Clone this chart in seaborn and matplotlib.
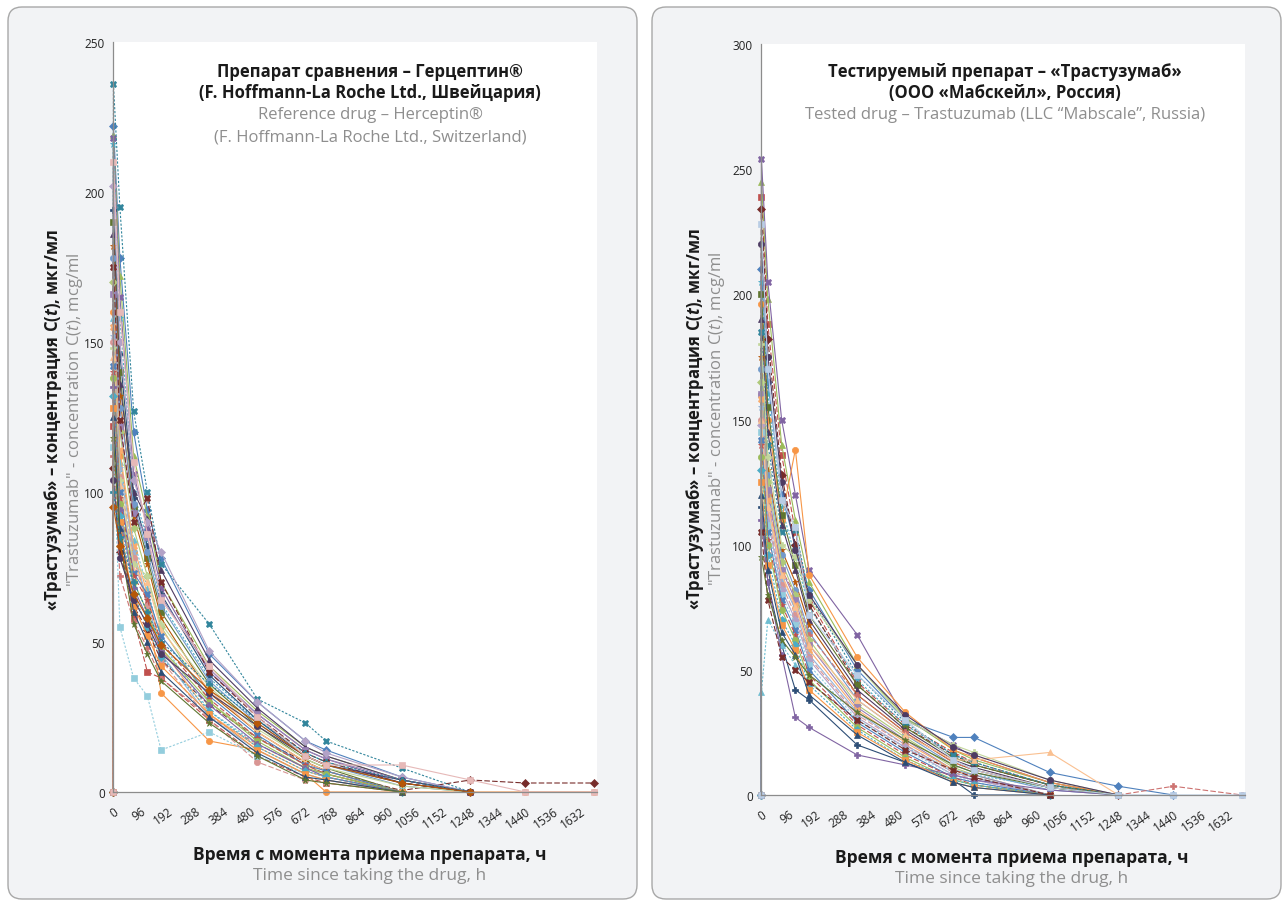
import matplotlib
matplotlib.use('Agg')
import numpy as np
import pandas as pd
import matplotlib.pyplot as plt
import seaborn as sns
from matplotlib.patches import FancyBboxPatch
from matplotlib.transforms import IdentityTransform

# sampling times, h
times = [0, 1.5, 24, 72, 120, 168, 336, 504, 672, 744, 1008, 1248, 1440, 1680]

# Reference drug (Herceptin), one row per subject, mcg/ml
ref_conc = [
    [0, 222, 178, 120, 94, 78, 46, 30, 17, 14, 5, 0],
    [0, 122, 86, 58, 40, 38, 24, 12, 5, 3, 0],
    [0, 219, 172, 112, 92, 70, 42, 27, 15, 12, 4, 0],
    [0, 218, 165, 106, 88, 68, 40, 26, 14, 11, 3, 0],
    [0, 216, 158, 100, 84, 63, 38, 24, 13, 10, 3, 0],
    [0, 160, 112, 80, 62, 33, 17, 14, 6, 0, 0, 0, 0, 0],
    [0, 194, 146, 98, 82, 66, 39, 24, 12, 9, 3, 0],
    [0, 108, 80, 62, 54, 44, 29, 18, 10, 7, 0.5, 4, 3, 3],
    [0, 190, 140, 95, 78, 60, 36, 22, 11, 8, 0],
    [0, 186, 136, 100, 91, 74, 44, 28, 15, 12, 4, 0],
    [0, 236, 195, 127, 100, 76, 56, 31, 23, 17, 8, 0],
    [0, 182, 132, 92, 76, 58, 33, 20, 10, 7, 0],
    [0, 178, 128, 96, 80, 62, 37, 23, 12, 9, 2, 0],
    [0, 112, 72, 57, 48, 38, 25, 16, 8, 6, 0],
    [0, 170, 120, 88, 72, 55, 30, 18, 9, 6, 0],
    [0, 166, 122, 93, 85, 65, 41, 26, 14, 11, 4, 0],
    [0, 158, 110, 84, 68, 50, 27, 16, 8, 5, 0],
    [0, 155, 114, 82, 66, 48, 26, 15, 7, 5, 0],
    [0, 152, 108, 80, 64, 46, 25, 14, 6, 4, 0],
    [0, 150, 105, 78, 62, 44, 24, 10, 4, 3, 0],
    [0, 148, 104, 76, 72, 56, 35, 21, 11, 8, 2, 0],
    [0, 202, 150, 104, 90, 80, 47, 30, 17, 13, 5, 0],
    [0, 115, 55, 38, 32, 14, 20, 12, 6, 4, 0],
    [0, 145, 102, 74, 70, 54, 34, 20, 10, 7, 0],
    [0, 142, 100, 73, 66, 52, 32, 19, 9, 7, 0],
    [0, 140, 98, 72, 64, 50, 31, 18, 9, 6, 0],
    [0, 138, 96, 70, 60, 48, 30, 17, 8, 6, 0],
    [0, 135, 94, 68, 58, 47, 29, 16, 8, 5, 0],
    [0, 132, 92, 66, 55, 45, 27, 15, 7, 5, 0],
    [0, 128, 90, 62, 52, 42, 26, 14, 6, 4, 0],
    [0, 125, 88, 60, 50, 40, 25, 13, 5, 4, 0],
    [0, 175, 124, 90, 98, 70, 40, 25, 13, 10, 3, 0],
    [0, 118, 84, 56, 46, 37, 23, 12, 4, 3, 0],
    [0, 104, 78, 64, 56, 46, 33, 22, 12, 9, 4, 0],
    [0, 100, 85, 70, 60, 50, 36, 24, 13, 10, 4, 0],
    [0, 95, 82, 66, 58, 49, 34, 23, 12, 9, 3, 0],
    [0, 210, 160, 110, 86, 64, 42, 25, 12, 9, 9, 4, 0, 0],
]

# Tested drug (Trastuzumab, Mabscale)
test_conc = [
    [0, 210, 165, 120, 100, 82, 50, 30, 23, 23, 9, 3.5, 0],
    [0, 239, 188, 136, 105, 78, 45, 28, 17, 13, 4, 0],
    [0, 245, 198, 140, 110, 85, 52, 31, 18, 14, 5, 0],
    [0, 254, 205, 150, 120, 90, 64, 30, 20, 15, 5, 0],
    [0, 205, 160, 115, 95, 75, 46, 28, 16, 13, 4, 0],
    [0, 196, 150, 110, 138, 88, 55, 33, 18, 15, 5, 0],
    [0, 115, 85, 60, 42, 38, 20, 13, 6, 0, 0],
    [0, 234, 182, 128, 100, 76, 44, 27, 16, 12, 4, 0],
    [0, 200, 155, 112, 92, 72, 44, 27, 15, 12, 4, 0],
    [0, 190, 145, 108, 90, 70, 42, 26, 14, 11, 3, 0],
    [0, 185, 140, 105, 106, 80, 48, 29, 16, 13, 4, 0],
    [0, 175, 130, 98, 85, 68, 40, 25, 13, 10, 3, 0],
    [0, 170, 128, 96, 82, 65, 38, 24, 12, 9, 2, 0],
    [0, 160, 120, 90, 80, 64, 40, 25, 13, 10, 3, 0, 3.5, 0],
    [0, 165, 125, 93, 80, 62, 36, 23, 11, 8, 0],
    [0, 160, 122, 90, 78, 60, 35, 22, 10, 8, 0],
    [0, 41, 70, 60, 52, 45, 30, 19, 10, 8, 3, 0],
    [0, 158, 118, 88, 76, 58, 34, 21, 10, 7, 0],
    [0, 155, 115, 86, 74, 56, 33, 20, 9, 7, 0],
    [0, 150, 112, 84, 72, 55, 32, 20, 9, 6, 0],
    [0, 180, 135, 100, 95, 78, 52, 30, 20, 17, 6, 0],
    [0, 148, 110, 82, 70, 54, 31, 19, 8, 6, 0],
    [0, 145, 108, 80, 68, 52, 30, 18, 8, 5, 0],
    [0, 150, 115, 88, 75, 60, 38, 24, 14, 14, 17, 0],
    [0, 142, 105, 78, 66, 50, 29, 17, 7, 5, 0],
    [0, 140, 102, 76, 64, 48, 28, 16, 7, 4, 0],
    [0, 135, 100, 74, 62, 46, 27, 15, 6, 4, 0],
    [0, 110, 85, 56, 31, 27, 16, 12, 8, 6, 2, 0],
    [0, 130, 96, 70, 60, 44, 26, 14, 6, 4, 0],
    [0, 125, 92, 68, 58, 42, 25, 14, 5, 3, 0],
    [0, 120, 90, 65, 56, 40, 24, 13, 5, 3, 0],
    [0, 105, 78, 55, 50, 45, 30, 18, 10, 7, 0],
    [0, 95, 80, 62, 55, 48, 33, 22, 12, 9, 3, 0],
    [0, 220, 175, 125, 98, 80, 52, 32, 19, 16, 6, 0],
    [0, 228, 170, 118, 107, 72, 48, 30, 14, 10, 3, 0, 0, 0],
]

xticks = list(range(0, 1633, 96))
ref_yticks = [0, 50, 100, 150, 200, 250]
test_yticks = [0, 50, 100, 150, 200, 250, 300]

ref_title = ["Препарат сравнения – Герцептин®", "(F. Hoffmann-La Roche Ltd., Швейцария)"]
ref_title_en = ["Reference drug – Herceptin®", "(F. Hoffmann-La Roche Ltd., Switzerland)"]
test_title = ["Тестируемый препарат – «Трастузумаб»", "(ООО «Мабскейл», Россия)"]
test_title_en = ["Tested drug – Trastuzumab (LLC “Mabscale”, Russia)"]
ylab_ru = r"«Трастузумаб» – концентрация C($\mathbfit{t}$), мкг/мл"
ylab_en = r'"Trastuzumab" - concentration C($\mathit{t}$), mcg/ml'
xlab_ru = "Время с момента приема препарата, ч"
xlab_en = "Time since taking the drug, h"

# Excel 2010 style series colours / markers
excel_colors = ['#4F81BD', '#C0504D', '#9BBB59', '#8064A2', '#4BACC6', '#F79646',
                '#2C4D75', '#772C2A', '#5F7530', '#4D3B62', '#31859C', '#B65708',
                '#729ACA', '#CD7371', '#AFC97A', '#9983B5', '#6FBDD1', '#F9AB6B',
                '#95B3D7', '#D99694', '#C3D69B', '#B3A2C7', '#93CDDD', '#FAC090']
excel_markers = ['D', 's', '^', 'X', '*', 'o', 'P']
line_dashes = ['', (5, 2), '', '', (2, 1.5), '']

GRAY = '#8e8e8e'
BLACK = '#1a1a1a'
AX_COL = '#8c8c8c'

sns.set_style('white')
plt.rcParams['font.family'] = ['Open Sans', 'DejaVu Sans']
plt.rcParams['mathtext.fontset'] = 'custom'
plt.rcParams['mathtext.rm'] = 'Open Sans'
plt.rcParams['mathtext.it'] = 'Open Sans:italic'
plt.rcParams['mathtext.bf'] = 'Open Sans:bold'
plt.rcParams['mathtext.bfit'] = 'Open Sans:italic:bold'


def to_long(rows):
    recs = []
    for i, row in enumerate(rows):
        for t, c in zip(times, row):
            recs.append((f"S{i + 1:02d}", t, c))
    return pd.DataFrame(recs, columns=['subject', 'time', 'conc'])


def draw_panel(ax, rows, last_color, ymax, yticks):
    df = to_long(rows)
    n = len(rows)
    cols = [excel_colors[i % len(excel_colors)] for i in range(n)]
    mks = [excel_markers[i % len(excel_markers)] for i in range(n)]
    ds = [line_dashes[i % len(line_dashes)] for i in range(n)]
    cols[-1], mks[-1], ds[-1] = last_color, 's', ''
    sns.lineplot(data=df, x='time', y='conc', hue='subject', style='subject',
                 palette=cols, markers=mks, dashes=ds, estimator=None,
                 legend=False, linewidth=0.8, markersize=4.5,
                 markeredgecolor=None, markeredgewidth=0.5, ax=ax)
    for ln in ax.lines:
        ln.set_clip_on(False)
        ln.set_markeredgecolor(ln.get_color())
    ax.set_xlim(0, 1690)
    ax.set_ylim(0, ymax)
    ax.set_xticks(xticks)
    ax.set_xticklabels([str(t) for t in xticks], rotation=35, ha='right',
                       va='top', rotation_mode='anchor')
    ax.set_yticks(yticks)
    ax.set_xlabel('')
    ax.set_ylabel('')
    for s in ['top', 'right']:
        ax.spines[s].set_visible(False)
    for s in ['left', 'bottom']:
        ax.spines[s].set_color(AX_COL)
        ax.spines[s].set_linewidth(0.9)
    ax.tick_params(direction='out', length=4, width=0.8, color=AX_COL,
                   labelsize=8.5, labelcolor='#222222', pad=2)
    ax.tick_params(axis='x', pad=5)
    ax.set_facecolor('white')


fig = plt.figure(figsize=(12.86, 9.04), dpi=100, facecolor='white')

# rounded panel frames
for x0 in [8, 652]:
    box = FancyBboxPatch((x0, 4), 629, 892, boxstyle='round,pad=0,rounding_size=14',
                         transform=IdentityTransform(), fc='#f2f3f5', ec='#a8a8a8',
                         lw=1.0, zorder=-1)
    fig.add_artist(box)

ax1 = fig.add_axes([113 / 1286, 1 - 793 / 904, 484 / 1286, 750 / 904])
ax2 = fig.add_axes([761 / 1286, 1 - 796 / 904, 484 / 1286, 751 / 904])

draw_panel(ax1, ref_conc, '#E6B9B8', 250, ref_yticks)
draw_panel(ax2, test_conc, '#B9CDE5', 300, test_yticks)


def ftext(x, y, s, color=BLACK, bold=False, rot=0, size=12):
    fig.text(x / 1286, 1 - y / 904, s, color=color, fontsize=size,
             fontweight='bold' if bold else 'normal', rotation=rot,
             ha='center', va='center')


# titles inside plot areas
ftext(370, 72, ref_title[0], bold=True)
ftext(370, 93, ref_title[1], bold=True)
ftext(370, 115, ref_title_en[0], color=GRAY)
ftext(370, 137, ref_title_en[1], color=GRAY)
ftext(1005, 72, test_title[0], bold=True)
ftext(1005, 93, test_title[1], bold=True)
ftext(1005, 115, test_title_en[0], color=GRAY)

# axis titles
for cx, cy in [(370, 855), (1012, 858)]:
    ftext(cx, cy, xlab_ru, bold=True, size=12.5)
    ftext(cx, cy + 21, xlab_en, color=GRAY, size=12.5)
for lx, ly in [(53, 420), (695, 419)]:
    ftext(lx, ly, ylab_ru, bold=True, rot=90, size=12)
    ftext(lx + 22, ly, ylab_en, color=GRAY, rot=90, size=12)

fig.savefig('out.png', dpi=100, facecolor='white')
